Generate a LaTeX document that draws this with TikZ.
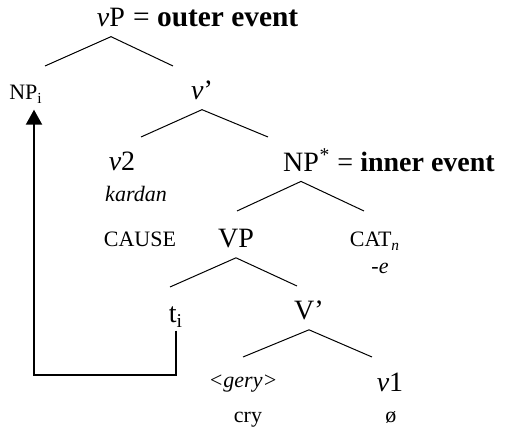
\documentclass[tikz,border=0pt]{standalone}
\usepackage{fontspec}
\setmainfont{Liberation Serif}
\usetikzlibrary{arrows.meta}
\tikzset{>={Triangle[width=8pt,length=7.5pt]}}

\begin{document}
\begin{tikzpicture}[x=0.5pt,y=-0.5pt]
    \tikzset{cat/.style={anchor=base,inner xsep=0pt,inner ysep=4.5pt,font=\fontsize{14}{16}\selectfont}}
    \tikzset{note/.style={anchor=base west,inner xsep=0pt,inner ysep=4.5pt,font=\fontsize{14}{16}\selectfont}}
    \tikzset{gloss/.style={anchor=base,inner sep=3pt,font=\fontsize{11}{13}\selectfont}}
    \tikzset{branch/.style={line width=0.5pt}}
    \tikzset{trace/.style={line width=1pt,->}}
    \useasboundingbox (0,0) rectangle (505,433);
    \draw (111,27) node[cat](vP){\textit{v}P};
    \draw (vP.base east) node[note,font=\fontsize{14.7}{16}\selectfont](outer){\ = \textbf{outer event}};
    \draw (26,100) node[gloss](NPi){NP\textsubscript{i}};
    \draw (202,100) node[cat](vbar){\textit{v}'};
    \draw (122,171) node[cat](v2){\textit{v}2};
    \draw (136,202) node[gloss](kardan){\textit{kardan}};
    \draw (140,247) node[gloss](cause){CAUSE};
    \draw (301,172) node[cat](NP){NP};
    \draw (NP.base east) node[note](inner){\textsuperscript{*} = \textbf{inner event}};
    \draw (236,248) node[cat](VP){VP};
    \draw (375,247) node[gloss](catn){CAT\textsubscript{\textit{n}}};
    \draw (380,274) node[gloss](ez){\textit{-e}};
    \draw (176,323) node[cat,inner ysep=1.5pt](ti){t\textsubscript{i}};
    \draw (309,320) node[cat](Vbar){V'};
    \draw (243,388) node[gloss](gery){\textit{<gery>}};
    \draw (390,392) node[cat](v1){\textit{v}1};
    \draw (248,423) node[gloss](cry){cry};
    \draw (391,423) node[gloss](null){ø};
    % branch ends
    \coordinate (vPl) at (45,66);
    \coordinate (vPr) at (173,66);
    \coordinate (vbarl) at (141,137);
    \coordinate (vbarr) at (268,137);
    \coordinate (NPl) at (237,211);
    \coordinate (NPr) at (364,211);
    \coordinate (VPl) at (170,287);
    \coordinate (VPr) at (297,286);
    \coordinate (Vbarl) at (243,357);
    \coordinate (Vbarr) at (372,357);
    \coordinate (low) at (34,375);
    \draw[branch](vPl) -- (vP.south) -- (vPr);
    \draw[branch](vbarl) -- (vbar.south) -- (vbarr);
    \draw[branch](NPl) -- (NP.south) -- (NPr);
    \draw[branch](VPl) -- (VP.south) -- (VPr);
    \draw[branch](Vbarl) -- (Vbar.south) -- (Vbarr);
    \draw[trace](ti.south) |- (low) -- (low |- NPi.south);
\end{tikzpicture}
\end{document}
